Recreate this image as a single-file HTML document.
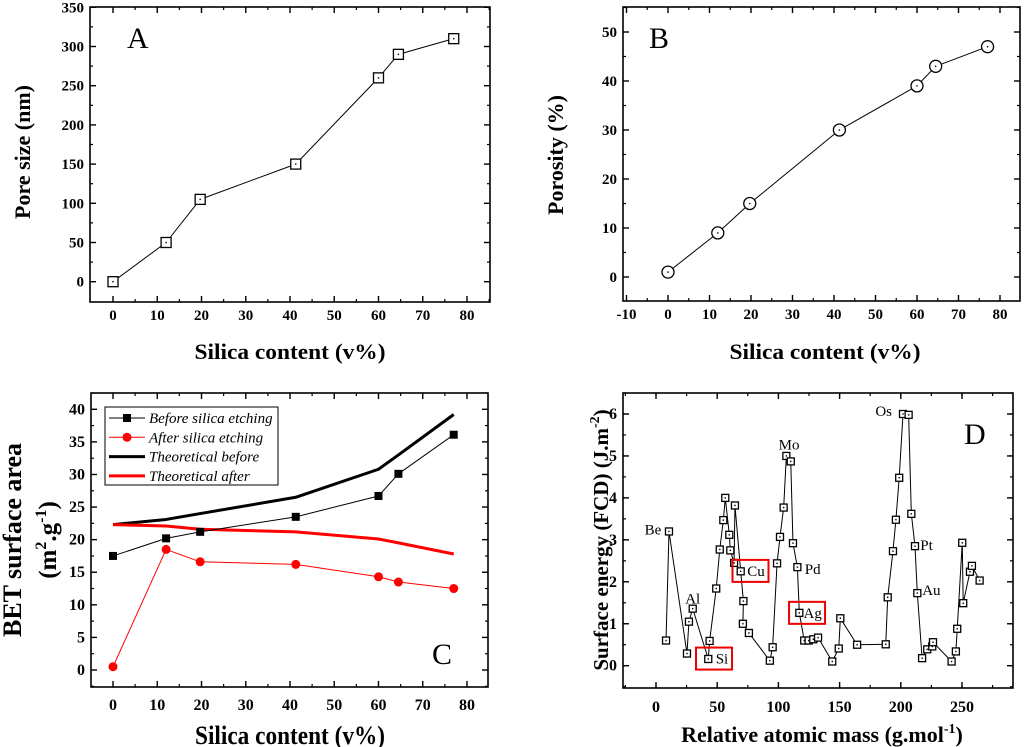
<!DOCTYPE html>
<html><head><meta charset="utf-8"><style>
html,body{margin:0;padding:0;background:#fff}
svg{display:block;font-family:"Liberation Serif",serif}
</style></head><body>
<svg id="fig" width="1024" height="747" viewBox="0 0 1024 747" xmlns="http://www.w3.org/2000/svg"></svg>
<script>
// ---- Panel A / B data ----
const silicaX = [0, 12, 19.7, 41.3, 60, 64.5, 77];
const poreSize = [0, 50, 105, 150, 260, 290, 310];
const porosity = [1, 9, 15, 30, 39, 43, 47];
// ---- Panel C data ----
const bet_before = [17.5, 20.2, 21.2, 23.5, 26.7, 30.1, 36.1];
const bet_after = [0.5, 18.5, 16.6, 16.2, 14.3, 13.5, 12.5];
const theo_before = [22.3, 23.1, 24.0, 26.5, 30.8, 33.0, 39.2];
const theo_after = [22.3, 22.1, 21.6, 21.2, 20.1, 19.5, 17.8];
const legendLabels = ["Before silica etching", "After silica etching", "Theoretical before", "Theoretical after"];
// ---- Panel D data ----
const atomicMass = [8.2,10.6,25.3,26.9,30,42.7,43.8,49.2,52.1,55,56.6,59.9,60.7,63.8,64.5,69.2,71.4,71.0,75.9,93.0,95.3,98.9,101.3,104.3,106.5,110.1,111.9,115.5,117.1,121.1,124.7,128.5,132.4,144,149.3,150.6,164.3,187.7,189.3,193.6,196,198.7,201.8,206.4,208.6,211.6,213.5,217.4,221.6,225.7,226.3,241.5,245,246.1,250.2,251,256.5,258.1,264.4];
const surfEnergy = [0.6,3.2,0.29,1.05,1.36,0.16,0.59,1.84,2.77,3.47,4.0,3.12,2.75,2.45,3.82,2.25,1.54,1.0,0.78,0.12,0.44,2.44,3.07,3.77,5.0,4.87,2.92,2.35,1.26,0.6,0.6,0.63,0.67,0.1,0.41,1.13,0.5,0.51,1.63,2.73,3.48,4.48,6.0,5.98,3.62,2.85,1.73,0.18,0.39,0.46,0.56,0.1,0.34,0.88,2.93,1.49,2.24,2.38,2.03];
const elemLabels = ["Be","Al","Si","Cu","Mo","Pd","Ag","Os","Pt","Au"];
const elemLabelMass = [-2.5, 30, 53.9, 81.7, 108.7, 128, 128, 186, 221, 225];
const elemLabelE = [3.25, 1.6, 0.17, 2.26, 5.27, 2.3, 1.26, 6.07, 2.88, 1.8];
const boxedElems = ["Si","Cu","Ag"];
const boxMass = [47.4, 77.2, 123.4];
const boxE = [0.17, 2.26, 1.26];

const NS = "http://www.w3.org/2000/svg";
const svg = document.getElementById("fig");
function el(tag, attrs, parent, text){
  const e = document.createElementNS(NS, tag);
  for (const k in attrs) e.setAttribute(k, attrs[k]);
  if (text !== undefined) e.textContent = text;
  (parent || svg).appendChild(e);
  return e;
}
function lin(d0,d1,r0,r1){ return v => r0 + (v-d0)*(r1-r0)/(d1-d0); }

function panel(name, box, xs, ys, xTicks, yTicks, xMinor, yMinor, tickSize){
  const g = el("g", {});
  
  
  const f = el("rect", {x:box.l, y:box.t, width:box.r-box.l, height:box.b-box.t, fill:"none", stroke:"#000", "stroke-width":1.6}, g);
  
  
  const ax = el("g", {}, g);
  
  
  const ay = el("g", {}, g);
  
  
  for (const v of xMinor){ const x = xs(v); if (x<box.l||x>box.r) continue;
    el("line",{x1:x,x2:x,y1:box.b,y2:box.b-3,stroke:"#000","stroke-width":1.2},ax);
    el("line",{x1:x,x2:x,y1:box.t,y2:box.t+3,stroke:"#000","stroke-width":1.2},ax); }
  for (const v of xTicks){ const x = xs(v);
    el("line",{x1:x,x2:x,y1:box.b,y2:box.b-6,stroke:"#000","stroke-width":1.4},ax);
    el("line",{x1:x,x2:x,y1:box.t,y2:box.t+6,stroke:"#000","stroke-width":1.4},ax);
    const t = el("text",{x:x,y:box.b+tickSize.xdy,"text-anchor":"middle","font-size":tickSize.fs,"font-weight":"bold"},ax,String(v));
    
     }
  for (const v of yMinor){ const y = ys(v); if (y<box.t||y>box.b) continue;
    el("line",{x1:box.l,x2:box.l+3,y1:y,y2:y,stroke:"#000","stroke-width":1.2},ay);
    el("line",{x1:box.r,x2:box.r-3,y1:y,y2:y,stroke:"#000","stroke-width":1.2},ay); }
  for (const v of yTicks){ const y = ys(v);
    el("line",{x1:box.l,x2:box.l+6,y1:y,y2:y,stroke:"#000","stroke-width":1.4},ay);
    el("line",{x1:box.r,x2:box.r-6,y1:y,y2:y,stroke:"#000","stroke-width":1.4},ay);
    const t = el("text",{x:box.l-6,y:y+5,"text-anchor":"end","font-size":tickSize.fs,"font-weight":"bold"},ay,String(v));
    
     }
  return g;
}
function range(a,b,s){ const r=[]; for(let v=a; v<=b+1e-9; v+=s) r.push(Math.round(v*100)/100); return r; }
function polyline(g, xs, ys, X, Y, stroke, w, name){
  const p = el("polyline",{points:X.map((v,i)=>xs(v)+","+ys(Y[i])).join(" "),fill:"none",stroke:stroke,"stroke-width":w,"stroke-linejoin":"round"},g);
  
  
  return p;
}
function sqMarker(g,x,y,s){
  const r = el("rect",{x:x-s/2,y:y-s/2,width:s,height:s,fill:"#fff",stroke:"#000","stroke-width":1.3},g);
  
  
  el("rect",{x:x-0.7,y:y-0.7,width:1.4,height:1.4,fill:"#000"},g);
}
function title(txt, x, y, fs, rot, len, name){
  const attrs = {x:x,y:y,"text-anchor":"middle","font-size":fs,"font-weight":"bold"};
  if (rot) attrs.transform = "rotate(-90 "+x+" "+y+")";
  if (len){ attrs.textLength = len; attrs.lengthAdjust = "spacingAndGlyphs"; }
  const t = el("text",attrs,svg,txt);
  
  
  return t;
}

// ===== Panel A =====
{
  const box={l:90,r:490,t:7,b:302};
  const xs=lin(0,80,113,467), ys=lin(0,350,281.7,7.3);
  const g=panel("panel-a",box,xs,ys,range(0,80,10),range(0,350,50),range(5,85,10),range(25,325,50),{fs:15,xdy:18});
  polyline(g,xs,ys,silicaX,poreSize,"#000",1,"pore-size-line");
  silicaX.forEach((v,i)=>sqMarker(g,xs(v),ys(poreSize[i]),10));
  const l=el("text",{x:127,y:48,"font-size":30},g,"A");
  
  
  title("Pore size (nm)",30,152,22,true,null,"y-axis-title-a");
  title("Silica content (v%)",290,359,22,false,191,"x-axis-title-a");
}
// ===== Panel B =====
{
  const box={l:623,r:1020,t:7,b:301};
  const xs=lin(0,80,668,1000), ys=lin(0,50,277,32);
  const g=panel("panel-b",box,xs,ys,range(-10,80,10),range(0,50,10),range(-5,85,10),range(-5,55,10),{fs:15,xdy:18});
  polyline(g,xs,ys,silicaX,porosity,"#000",1,"porosity-line");
  silicaX.forEach((v,i)=>{
    const c=el("circle",{cx:xs(v),cy:ys(porosity[i]),r:6,fill:"#fff",stroke:"#000","stroke-width":1.3},g);
    
    
    el("circle",{cx:xs(v),cy:ys(porosity[i]),r:0.8,fill:"#000"},g);
  });
  const l=el("text",{x:649,y:48,"font-size":30},g,"B");
  
  
  title("Porosity (%)",563,155,22,true,null,"y-axis-title-b");
  title("Silica content (v%)",825,359,22,false,191,"x-axis-title-b");
}
// ===== Panel C =====
{
  const box={l:91,r:488,t:393,b:687};
  const xs=lin(0,80,113,467), ys=lin(0,40,670,409.3);
  const g=panel("panel-c",box,xs,ys,range(0,80,10),range(0,40,5),range(-5,85,10),range(-2.5,42.5,5),{fs:16,xdy:23});
  polyline(g,xs,ys,silicaX,theo_before,"#000",3,"theoretical-before-line");
  polyline(g,xs,ys,silicaX,theo_after,"#f00",3,"theoretical-after-line");
  polyline(g,xs,ys,silicaX,bet_before,"#000",1,"before-etching-line");
  polyline(g,xs,ys,silicaX,bet_after,"#f00",1,"after-etching-line");
  silicaX.forEach((v,i)=>{
    const r=el("rect",{x:xs(v)-4,y:ys(bet_before[i])-4,width:8,height:8,fill:"#000"},g);
    
    
    const c=el("circle",{cx:xs(v),cy:ys(bet_after[i]),r:4.5,fill:"#f00"},g);
    
    
  });
  const lg=el("g",{},g);
  
  
  el("rect",{x:105,y:407,width:173,height:78,fill:"#fff",stroke:"#000","stroke-width":1},lg);
  const cols=["#000","#f00","#000","#f00"], ws=[1,1,3,3];
  legendLabels.forEach((t,i)=>{
    const y=418+i*19.3;
    const e=el("g",{},lg);
    
    
    el("line",{x1:109,x2:145,y1:y,y2:y,stroke:cols[i],"stroke-width":ws[i]},e);
    if(i===0) el("rect",{x:123,y:y-4,width:8,height:8,fill:"#000"},e);
    if(i===1) el("circle",{cx:127,cy:y,r:4.5,fill:"#f00"},e);
    el("text",{x:149,y:y+5,"font-size":15,"font-style":"italic"},e,t);
  });
  const l=el("text",{x:432,y:664,"font-size":30},g,"C");
  
  
  title("BET surface area",21,540,26,true,null,"y-axis-title-c");
  const t2=el("text",{x:56,y:540,"text-anchor":"middle","font-size":25,"font-weight":"bold",transform:"rotate(-90 56 540)"},svg);
  
  
  t2.innerHTML='(m<tspan dy="-10" font-size="16">2</tspan><tspan dy="10">.g</tspan><tspan dy="-10" font-size="16">-1</tspan><tspan dy="10">)</tspan>';
  title("Silica content (v%)",290,744,26,false,190,"x-axis-title-c");
}
// ===== Panel D =====
{
  const box={l:623,r:1013,t:393,b:688};
  const xs=lin(0,250,656,962), ys=lin(0,6,665.7,414);
  const g=panel("panel-d",box,xs,ys,range(0,250,50),range(0,6,1),range(-25,300,25),range(-0.5,6.5,0.5),{fs:16,xdy:24});
  polyline(g,xs,ys,atomicMass,surfEnergy,"#000",1,"surface-energy-line");
  atomicMass.forEach((v,i)=>sqMarker(g,xs(v),ys(surfEnergy[i]),7));
  elemLabels.forEach((t,i)=>{
    const x=xs(elemLabelMass[i]), y=ys(elemLabelE[i]);
    const tx=el("text",{x:x,y:y+5,"text-anchor":"middle","font-size":15},g,t);
    
    
  });
  boxedElems.forEach((t,i)=>{
    const x=xs(boxMass[i]), y=ys(boxE[i]);
    const b=el("rect",{x:x-18,y:y-11,width:36,height:22,fill:"none",stroke:"#e00","stroke-width":2},g);
    
    
  });
  const l=el("text",{x:964,y:444,"font-size":30},g,"D");
  
  
  const yt=el("text",{x:608,y:540,"text-anchor":"middle","font-size":21,"font-weight":"bold",transform:"rotate(-90 608 540)"},svg);
  
  
  yt.innerHTML='Surface energy (FCD) (J.m<tspan dy="-9" font-size="14">-2</tspan><tspan dy="9">)</tspan>';
  const xt=el("text",{x:822,y:742,"text-anchor":"middle","font-size":22,"font-weight":"bold"},svg);
  
  
  xt.innerHTML='Relative atomic mass (g.mol<tspan dy="-9" font-size="14">-1</tspan><tspan dy="9">)</tspan>';
}
</script>
</body></html>
